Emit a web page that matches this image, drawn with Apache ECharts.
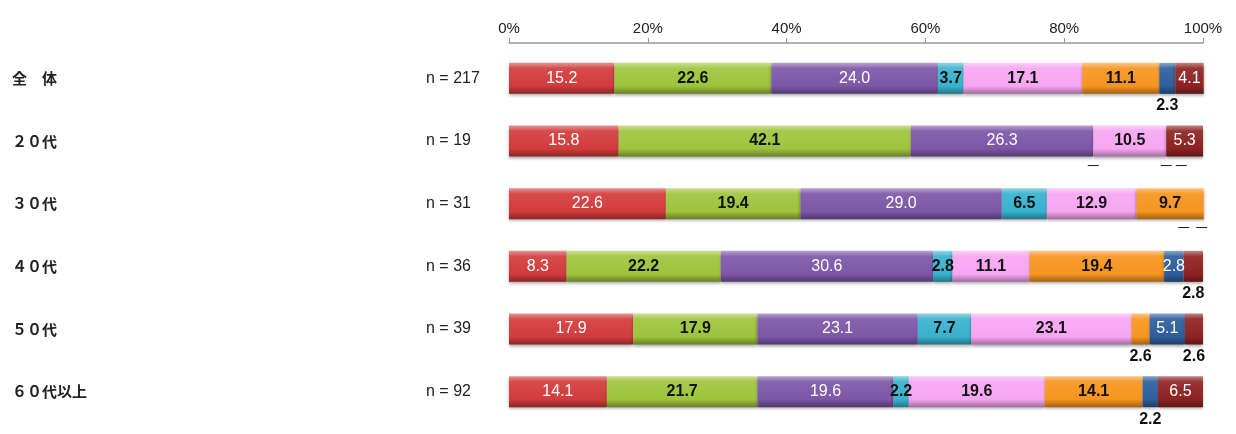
<!DOCTYPE html>
<html>
<head>
<meta charset="utf-8">
<script src="https://cdn.jsdelivr.net/npm/echarts@6/dist/echarts.min.js"></script>
<style>
html,body{margin:0;padding:0;background:#fff;}
#chart{width:1236px;height:434px;}
</style>
</head>
<body>
<div id="chart"></div>
<script>
// ---- data ----
const categories = ['全　体', '２０代', '３０代', '４０代', '５０代', '６０代以上'];
const sampleSizes = ['n = 217', 'n = 19', 'n = 31', 'n = 36', 'n = 39', 'n = 92'];
const seriesNames = ['選択肢1', '選択肢2', '選択肢3', '選択肢4', '選択肢5', '選択肢6', '選択肢7', '選択肢8'];
const v1 = [15.2, 15.8, 22.6, 8.3, 17.9, 14.1];
const v2 = [22.6, 42.1, 19.4, 22.2, 17.9, 21.7];
const v3 = [24.0, 26.3, 29.0, 30.6, 23.1, 19.6];
const v4 = [3.7, 0, 6.5, 2.8, 7.7, 2.2];
const v5 = [17.1, 10.5, 12.9, 11.1, 23.1, 19.6];
const v6 = [11.1, 0, 9.7, 19.4, 2.6, 14.1];
const v7 = [2.3, 0, 0, 2.8, 5.1, 2.2];
const v8 = [4.1, 5.3, 0, 2.8, 2.6, 6.5];
const xTicks = [0, 20, 40, 60, 80, 100];

// ---- styling ----
const values = [v1, v2, v3, v4, v5, v6, v7, v8];
const colors = ['#D23B3B', '#9EC43C', '#7D56A8', '#38B2CE', '#F7A6F2', '#F7951F', '#2D5E9C', '#8E2222'];
const whiteText = [true, false, true, false, false, false, true, true];
// labels drawn under the bar: [seriesIndex, rowIndex]
const belowLabels = [[6, 0], [7, 3], [5, 4], [7, 4], [6, 5]];
// horizontal offsets for dash labels of zero values: key "s,r"
const dashOffsets = {'3,1': 0, '5,1': 0, '6,1': 15, '6,2': -20, '7,2': -2};

function lighten(hex, f) {
  const n = parseInt(hex.slice(1), 16);
  let r = n >> 16, g = (n >> 8) & 255, b = n & 255;
  if (f > 0) { r += (255 - r) * f; g += (255 - g) * f; b += (255 - b) * f; }
  else { r *= 1 + f; g *= 1 + f; b *= 1 + f; }
  return 'rgb(' + Math.round(r) + ',' + Math.round(g) + ',' + Math.round(b) + ')';
}
function grad(c) {
  return new echarts.graphic.LinearGradient(0, 0, 0, 1, [
    {offset: 0, color: lighten(c, 0.45)},
    {offset: 0.18, color: lighten(c, 0.08)},
    {offset: 0.75, color: c},
    {offset: 1, color: lighten(c, -0.35)}
  ]);
}

const BAR_W = 31;
const series = values.map((arr, s) => ({
  name: seriesNames[s],
  type: 'bar',
  stack: 'total',
  barWidth: BAR_W,
  clip: false,
  itemStyle: {
    color: grad(colors[s]),
    shadowColor: 'rgba(0,0,0,0.35)',
    shadowBlur: 3,
    shadowOffsetY: 2
  },
  label: {
    show: true,
    position: 'inside',
    fontFamily: 'Liberation Sans, DejaVu Sans, sans-serif',
    fontSize: 16,
    color: whiteText[s] ? '#ffffff' : '#111111',
    fontWeight: whiteText[s] ? 'normal' : 'bold',
    formatter: p => p.value.toFixed(1)
  },
  labelLayout: {hideOverlap: false},
  data: arr.map((v, r) => {
    const isBelow = belowLabels.some(b => b[0] === s && b[1] === r);
    if (v === 0) {
      return {
        value: v,
        label: {
          position: [dashOffsets[s + ',' + r] || 0, BAR_W + 1],
          align: 'center', verticalAlign: 'top',
          color: '#222', fontWeight: 'normal', fontSize: 15,
          fontFamily: 'Noto Sans CJK JP, sans-serif',
          formatter: '－'
        }
      };
    }
    if (isBelow) {
      return {value: v, label: {position: 'bottom', distance: 4, color: '#111', fontWeight: 'bold'}};
    }
    return v;
  })
}));

const chart = echarts.init(document.getElementById('chart'), null, {renderer: 'canvas'});
chart.setOption({
  backgroundColor: '#ffffff',
  animation: false,
  grid: {left: 509, right: 33, top: 47, height: 376},
  xAxis: {
    type: 'value',
    position: 'top',
    offset: 4,
    min: 0, max: 100, interval: 20,
    axisLine: {show: true, lineStyle: {color: '#999', width: 1.5}},
    axisTick: {show: true, length: 5, lineStyle: {color: '#999'}},
    splitLine: {show: false},
    axisLabel: {
      fontFamily: 'Liberation Sans, DejaVu Sans, sans-serif',
      fontSize: 15, color: '#222', margin: 7,
      formatter: v => xTicks.includes(v) ? v + '%' : ''
    }
  },
  yAxis: {
    type: 'category',
    inverse: true,
    data: categories,
    axisLine: {show: false},
    axisTick: {show: false},
    axisLabel: {
      align: 'left',
      margin: 497,
      formatter: (v, i) => '{a|' + v + '}{b|' + sampleSizes[i] + '}',
      rich: {
        a: {width: 414, fontFamily: 'Noto Sans CJK JP, sans-serif', fontSize: 15, color: '#222', fontWeight: 'bold'},
        b: {fontFamily: 'Liberation Sans, DejaVu Sans, sans-serif', fontSize: 16, color: '#222'}
      }
    }
  },
  series: series
});
</script>
</body>
</html>
